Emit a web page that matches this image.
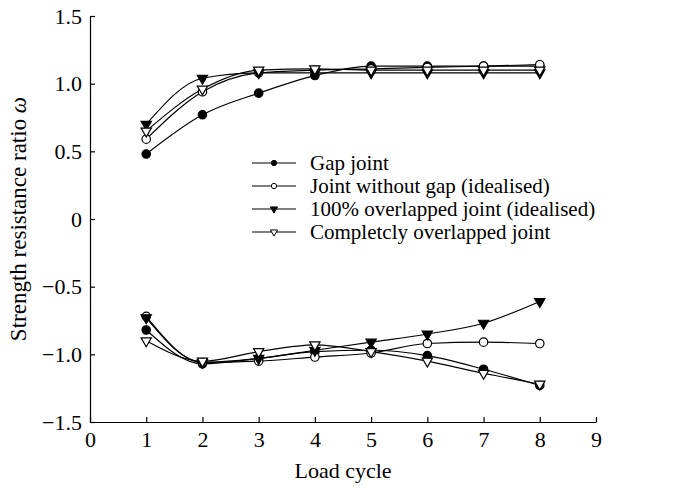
<!DOCTYPE html>
<html>
<head>
<meta charset="utf-8">
<script src="https://cdn.jsdelivr.net/npm/d3@7"></script>
<style>
  body { margin: 0; background: #fff; }
  text { font-family: "Liberation Serif", "Times New Roman", serif; fill: #000; }
</style>
</head>
<body>
<div></div>
<script>
const width = 685;
const height = 488;
const margin = { top: 16, right: 89, bottom: 66, left: 90 };

const cycles = [1, 2, 3, 4, 5, 6, 7, 8];
const xTicks = [0, 1, 2, 3, 4, 5, 6, 7, 8, 9];
const yTicks = [-1.5, -1.0, -0.5, 0, 0.5, 1.0, 1.5];

const names = [
  "Gap joint",
  "Joint without gap (idealised)",
  "100% overlapped joint (idealised)",
  "Completcly overlapped joint",
];

// upper branch (positive) and lower branch (negative) for each joint type
const gapUp = [0.48, 0.77, 0.93, 1.06, 1.13, 1.13, 1.13, 1.13];
const gapDown = [-0.82, -1.07, -1.03, -0.98, -0.97, -1.01, -1.11, -1.23];
const noGapUp = [0.59, 0.94, 1.08, 1.1, 1.11, 1.12, 1.13, 1.14];
const noGapDown = [-0.72, -1.06, -1.05, -1.02, -0.99, -0.92, -0.91, -0.92];
const overlapUp = [0.7, 1.04, 1.08, 1.08, 1.08, 1.08, 1.08, 1.08];
const overlapDown = [-0.73, -1.06, -1.03, -0.97, -0.91, -0.85, -0.77, -0.61];
const completeUp = [0.65, 0.96, 1.1, 1.11, 1.1, 1.1, 1.1, 1.1];
const completeDown = [-0.9, -1.05, -0.98, -0.93, -0.98, -1.05, -1.14, -1.22];

const series = [
  { name: names[0], marker: "circle", fill: "#000", branches: [gapUp, gapDown] },
  { name: names[1], marker: "circle", fill: "#fff", branches: [noGapUp, noGapDown] },
  { name: names[2], marker: "triangle", fill: "#000", branches: [overlapUp, overlapDown] },
  { name: names[3], marker: "triangle", fill: "#fff", branches: [completeUp, completeDown] },
];

const fontSize = 22;

const svg = d3
  .select("div")
  .append("svg")
  .attr("width", width)
  .attr("height", height);

const x = d3
  .scaleLinear()
  .domain([0, 9])
  .range([margin.left, width - margin.right]);

const y = d3
  .scaleLinear()
  .domain([-1.5, 1.5])
  .range([height - margin.bottom, margin.top]);

// axes, ticks pointing inward
const xAxis = d3
  .axisBottom(x)
  .tickValues(xTicks)
  .tickSizeInner(-5)
  .tickSizeOuter(0)
  .tickPadding(9)
  .tickFormat(d3.format("d"));

const yAxis = d3
  .axisLeft(y)
  .tickValues(yTicks)
  .tickSizeInner(-5)
  .tickSizeOuter(0)
  .tickPadding(8)
  .tickFormat((d) => (d === 0 ? "0" : d3.format(".1f")(d).replace("-", "\u2212")));

svg
  .append("g")
  .attr("transform", "translate(0," + (height - margin.bottom) + ")")
  .call(xAxis)
  .attr("font-size", fontSize)
  .attr("font-family", null);

svg
  .append("g")
  .attr("transform", "translate(" + margin.left + ",0)")
  .call(yAxis)
  .attr("font-size", fontSize)
  .attr("font-family", null);

svg.selectAll(".domain, .tick line").attr("stroke", "#000").attr("stroke-width", 1.2);

svg
  .append("text")
  .attr("x", (x(0) + x(9)) / 2)
  .attr("y", 478)
  .attr("text-anchor", "middle")
  .attr("font-size", fontSize)
  .text("Load cycle");

const yLabel = svg
  .append("text")
  .attr("transform", "translate(26," + y(0) + ") rotate(-90)")
  .attr("text-anchor", "middle")
  .attr("font-size", 23);
yLabel.append("tspan").text("Strength resistance ratio ");
yLabel.append("tspan").style("font-style", "italic").text("\u03c9");

// markers
const sym = {
  circle: d3.symbol().type(d3.symbolCircle).size(56),
  triangle: d3.symbol().type(d3.symbolTriangle).size(46),
};

function drawMarker(g, s, px, py) {
  g.append("path")
    .attr("d", sym[s.marker]())
    .attr("transform", "translate(" + px + "," + py + ")" + (s.marker === "triangle" ? " rotate(180)" : ""))
    .attr("fill", s.fill)
    .attr("stroke", "#000")
    .attr("stroke-width", 1.2);
}

const line = d3
  .line()
  .x((d, i) => x(cycles[i]))
  .y((d) => y(d))
  .curve(d3.curveMonotoneX);

series.forEach((s) => {
  const g = svg.append("g");
  s.branches.forEach((vals) => {
    g.append("path")
      .attr("d", line(vals))
      .attr("fill", "none")
      .attr("stroke", "#000")
      .attr("stroke-width", 1.2);
  });
});

series.forEach((s) => {
  const g = svg.append("g");
  s.branches.forEach((vals) => {
    vals.forEach((v, i) => drawMarker(g, s, x(cycles[i]), y(v)));
  });
});

// legend
const legend = svg.append("g").attr("transform", "translate(252,163)");
series.forEach((s, i) => {
  const row = legend.append("g").attr("transform", "translate(0," + i * 23 + ")");
  row.append("line")
    .attr("x1", 0)
    .attr("x2", 44)
    .attr("stroke", "#000")
    .attr("stroke-width", 1.2);
  row.append("path")
    .attr("d", d3.symbol().type(s.marker === "circle" ? d3.symbolCircle : d3.symbolTriangle).size(22)())
    .attr("transform", "translate(22,0)" + (s.marker === "triangle" ? " rotate(180)" : ""))
    .attr("fill", s.fill)
    .attr("stroke", "#000")
    .attr("stroke-width", 1);
  row.append("text")
    .attr("x", 58)
    .attr("y", 7)
    .attr("font-size", 21)
    .text(s.name);
});
</script>
</body>
</html>
